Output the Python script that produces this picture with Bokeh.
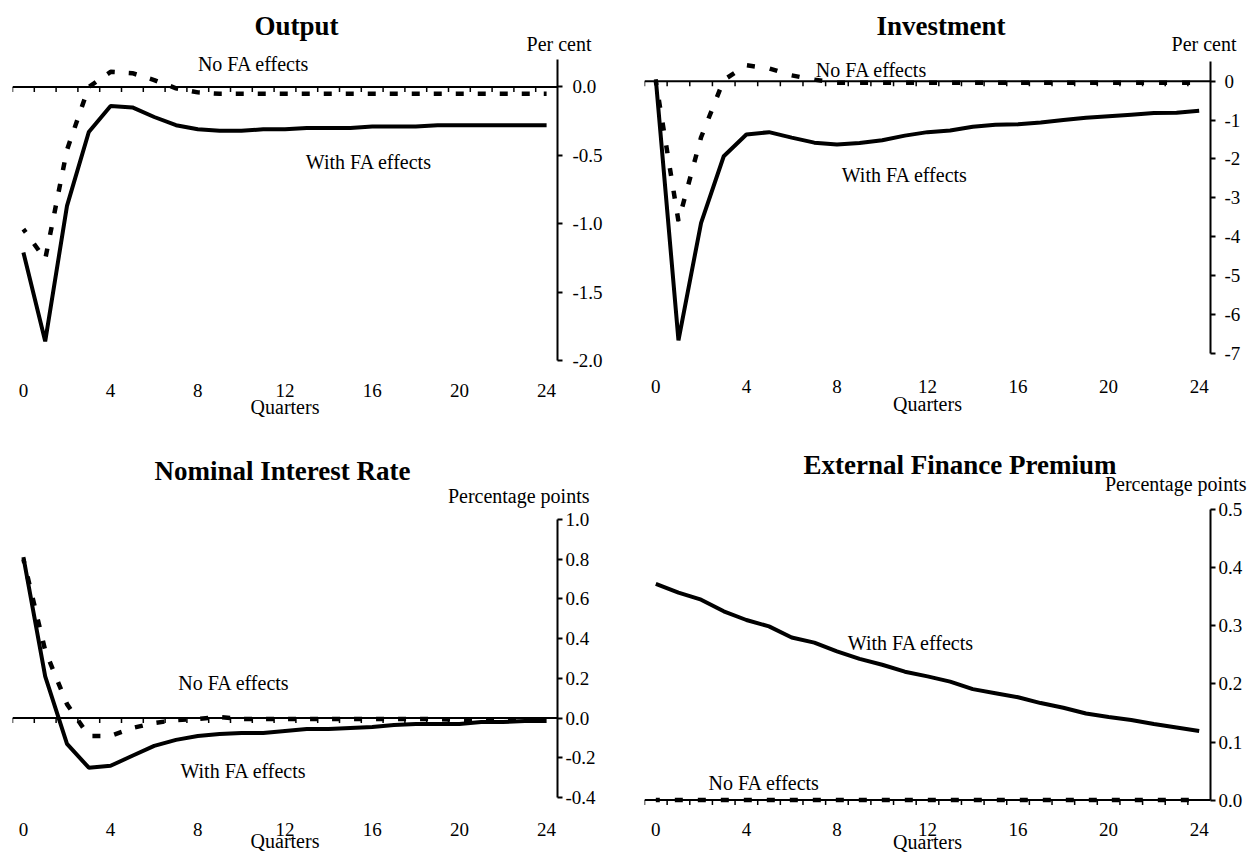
import numpy as np
from bokeh.plotting import figure
from bokeh.models import FixedTicker, PrintfTickFormatter, Span, Label, Range1d, Title, Spacer
from bokeh.layouts import column, row
from bokeh.embed import file_html
from bokeh.resources import INLINE

# ---------------- data ----------------
quarters = list(range(25))
x_tick_labels = [0, 4, 8, 12, 16, 20, 24]

output_fa = [-1.21, -1.86, -0.87, -0.33, -0.14, -0.15, -0.22, -0.28, -0.31, -0.32, -0.32, -0.31, -0.31,
             -0.30, -0.30, -0.30, -0.29, -0.29, -0.29, -0.28, -0.28, -0.28, -0.28, -0.28, -0.28]
output_nofa = [-1.04, -1.26, -0.46, 0.00, 0.11, 0.10, 0.05, -0.01, -0.04, -0.05, -0.05, -0.05, -0.05,
               -0.05, -0.05, -0.05, -0.05, -0.05, -0.05, -0.05, -0.05, -0.05, -0.05, -0.05, -0.05]

invest_fa = [0.05, -6.66, -3.64, -1.93, -1.37, -1.31, -1.45, -1.58, -1.63, -1.59, -1.52, -1.40, -1.31,
             -1.27, -1.17, -1.12, -1.11, -1.06, -1.00, -0.94, -0.90, -0.86, -0.82, -0.81, -0.76]
invest_nofa = [0.00, -3.60, -1.44, 0.03, 0.41, 0.33, 0.15, 0.04, -0.04, -0.04, -0.04, -0.04, -0.04,
               -0.04, -0.04, -0.04, -0.04, -0.04, -0.04, -0.04, -0.04, -0.04, -0.04, -0.04, -0.04]

rate_fa = [0.81, 0.21, -0.13, -0.25, -0.24, -0.19, -0.14, -0.11, -0.09, -0.08, -0.075, -0.075, -0.065,
           -0.055, -0.055, -0.05, -0.045, -0.035, -0.03, -0.03, -0.03, -0.02, -0.02, -0.015, -0.015]
rate_nofa = [0.80, 0.34, 0.07, -0.09, -0.09, -0.05, -0.025, -0.01, -0.005, 0.005, -0.005, -0.005, -0.005,
             -0.005, -0.005, -0.005, -0.005, -0.005, -0.005, -0.005, -0.01, -0.01, -0.01, -0.01, -0.01]

efp_fa = [0.372, 0.357, 0.345, 0.325, 0.310, 0.299, 0.280, 0.271, 0.256, 0.243, 0.233, 0.221, 0.213,
          0.204, 0.191, 0.184, 0.177, 0.167, 0.159, 0.149, 0.143, 0.138, 0.131, 0.125, 0.119]
efp_nofa = [0.0, 0.0, 0.0, 0.0, 0.0, 0.0, 0.0, 0.0, 0.0, 0.0, 0.0, 0.0, 0.0,
            0.0, 0.0, 0.0, 0.0, 0.0, 0.0, 0.0, 0.0, 0.0, 0.0, 0.0, 0.0]

output_yticks = [0.0, -0.5, -1.0, -1.5, -2.0]
invest_yticks = [0, -1, -2, -3, -4, -5, -6, -7]
rate_yticks = [1.0, 0.8, 0.6, 0.4, 0.2, 0.0, -0.2, -0.4]
efp_yticks = [0.5, 0.4, 0.3, 0.2, 0.1, 0.0]

FONT = "Liberation Serif"
category_edges = np.arange(-0.5, 24.0, 1.0)


def panel(width, height, borders, yr, ybounds, yticks, yfmt, ystandoff, xstandoff, qstandoff,
          fa, nofa, dash, title, title_offset, unit, unit_offset, unit_standoff, texts):
    l, r, t, b = borders
    p = figure(width=width, height=height, title=None,
               x_range=Range1d(-0.5, 24.5), y_range=Range1d(*yr),
               y_axis_location="right", output_backend="svg", toolbar_location=None,
               min_border_left=l, min_border_right=r, min_border_top=t, min_border_bottom=b)
    p.xgrid.visible = False
    p.ygrid.visible = False
    p.outline_line_color = None
    p.background_fill_color = "white"
    p.border_fill_color = "white"

    # unit caption (nearest the frame), then the panel title above it
    p.add_layout(Title(text=unit, align="right", offset=unit_offset, standoff=unit_standoff,
                       text_font=FONT, text_font_size="20px", text_font_style="normal",
                       text_color="black"), "above")
    p.add_layout(Title(text=title, align="left", offset=title_offset, standoff=0,
                       text_font=FONT, text_font_size="27px", text_font_style="bold",
                       text_color="black"), "above")

    # zero line with category tick marks
    p.add_layout(Span(location=0, dimension="width", line_color="black", line_width=2, level="underlay"))
    p.ray(x=category_edges, y=0, length=5, length_units="screen", angle=-np.pi / 2,
          line_color="black", line_width=1.5)

    p.line(quarters, nofa, line_color="black", line_width=4.5, line_dash=dash, line_dash_offset=4)
    p.line(quarters, fa, line_color="black", line_width=4)

    ya = p.yaxis[0]
    ya.bounds = ybounds
    ya.ticker = FixedTicker(ticks=yticks, minor_ticks=[])
    ya.formatter = PrintfTickFormatter(format=yfmt)
    ya.axis_line_width = 2
    ya.axis_line_color = "black"
    ya.major_tick_line_width = 2
    ya.major_tick_line_color = "black"
    ya.major_tick_in = 0
    ya.major_tick_out = 5
    ya.minor_tick_line_color = None
    ya.major_label_standoff = ystandoff
    ya.major_label_text_font = FONT
    ya.major_label_text_font_size = "19px"
    ya.major_label_text_color = "black"

    xa = p.xaxis[0]
    xa.ticker = FixedTicker(ticks=x_tick_labels, minor_ticks=[])
    xa.axis_line_color = None
    xa.major_tick_line_color = None
    xa.major_tick_in = 0
    xa.major_tick_out = 0
    xa.minor_tick_line_color = None
    xa.major_label_standoff = xstandoff
    xa.major_label_text_font = FONT
    xa.major_label_text_font_size = "19px"
    xa.major_label_text_color = "black"
    xa.axis_label = "Quarters"
    xa.axis_label_standoff = qstandoff
    xa.axis_label_text_font = FONT
    xa.axis_label_text_font_size = "20px"
    xa.axis_label_text_font_style = "normal"
    xa.axis_label_text_color = "black"

    for (txt, x, y) in texts:
        p.add_layout(Label(x=x, y=y, text=txt, text_font=FONT, text_font_size="20px",
                           text_align="center", text_baseline="middle", text_color="black"))
    return p


p1 = panel(612, 445, (4, 63, 36, 93), (-2.0, 0.310), (-2.0, 0.2), output_yticks, "%.1f", 10, 23, -4,
           output_fa, output_nofa, "8 14", "Output", 242, "Per cent", -34, -20,
           [("No FA effects", 10.56, 0.168),
            ("With FA effects", 15.85, -0.548)])

p2 = panel(638, 439, (20, 32, 36, 94), (-7.0, 0.943), (-7.0, 0.5), invest_yticks, "%d", 9, 26, -3,
           invest_fa, invest_nofa, "8 15", "Investment", 232, "Per cent", -26, -20,
           [("No FA effects", 9.53, 0.283),
            ("With FA effects", 11.0, -2.42)])

p3 = panel(612, 404, (3, 58, 50, 60), (-0.4, 1.080), (-0.4, 1.0), rate_yticks, "%.1f", 3, 25, -9,
           rate_fa, rate_nofa, "8 14", "Nominal Interest Rate", 142, "Percentage points", -32, -6,
           [("No FA effects", 9.66, 0.175),
            ("With FA effects", 10.1, -0.268)])

p4 = panel(638, 410, (24, 48, 38, 51), (-0.011, 0.5415), (0.0, 0.5), efp_yticks, "%.1f", 3, 16, -8,
           efp_fa, efp_nofa, "8 15", "External Finance Premium", 159, "Percentage points", -36, -18,
           [("With FA effects", 11.27, 0.271),
            ("No FA effects", 4.79, 0.030)])

layout = column(Spacer(width=1258, height=8),
                row(Spacer(width=8, height=849), column(p1, p3), column(p2, p4)))
open("out.html", "w").write(file_html(layout, INLINE))
